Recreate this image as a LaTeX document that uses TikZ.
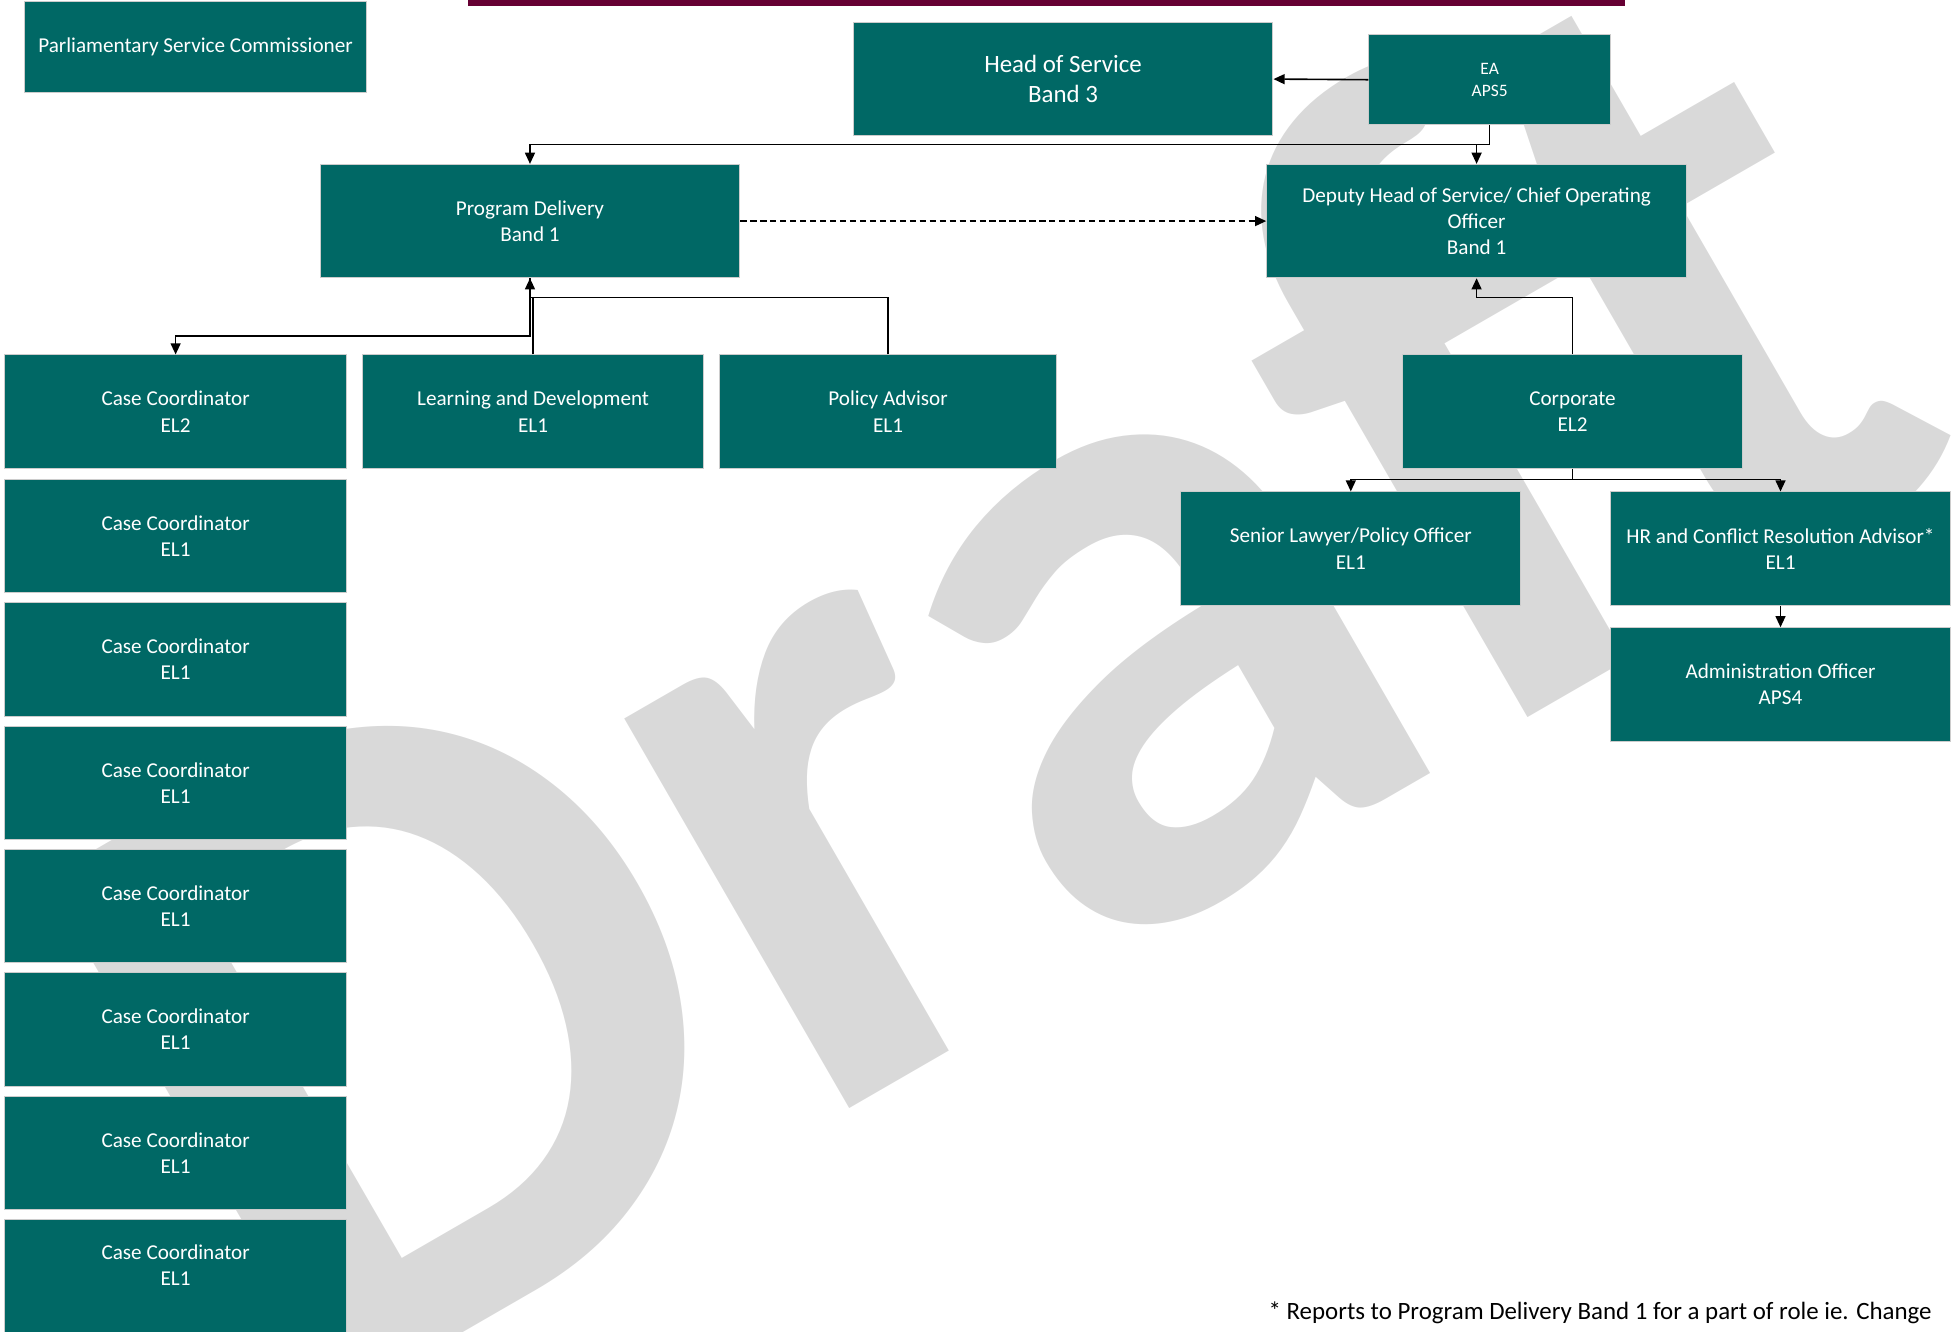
\documentclass[tikz,border=0pt]{standalone}
\usepackage{fontspec}
\setmainfont{Carlito}
\usetikzlibrary{arrows.meta, positioning, calc}
\definecolor{boxteal}{RGB}{0,104,101}
\definecolor{barmaroon}{RGB}{102,0,51}
\definecolor{wmgrey}{RGB}{217,217,217}

\begin{document}
\begin{tikzpicture}[x=1pt, y=-1pt, >={Triangle[length=9pt, width=8pt]},
    role/.style={draw=black!20, line width=0.8pt, fill=boxteal, text=white, align=center, inner sep=0pt, minimum width=274pt, minimum height=91pt, font=\fontsize{17}{21}\selectfont},
    wide/.style={role, minimum width=337pt},
    link/.style={line width=1.3pt}]
    \useasboundingbox (0,0) rectangle (1568,1069.4);
    \clip (0,0) rectangle (1568,1069.4);

    % watermark behind everything
    \node[rotate=30, anchor=base west, inner sep=0pt, text=wmgrey, font=\bfseries\fontsize{745}{745}\selectfont] at (241,1145) (draft) {Draft};
    \fill[barmaroon] (376,0) rectangle (1305,5);

    % top level
    \node[role, minimum height=73pt] at (157,37.5) (psc) {Parliamentary Service Commissioner};
    \node[wide, font=\fontsize{20}{24}\selectfont] at (853.5,63.5) (hos) {Head of Service\\Band 3};
    \node[role, minimum width=194pt, minimum height=72pt, font=\fontsize{14}{18}\selectfont] at (1196,64) (ea) {EA\\APS5};
    \node[wide] at (425.5,177.5) (progdel) {Program Delivery\\Band 1};
    \node[wide] at (1185.5,177.5) (deputy) {Deputy Head of Service/ Chief Operating\\Officer\\Band 1};

    % second level
    \node[role] at (141,330.5) (casecoord) {Case Coordinator\\EL2};
    \node[role] at (428,330.5) (learndev) {Learning and Development\\EL1};
    \node[role, minimum width=270pt] at (713,330.5) (policy) {Policy Advisor\\EL1};
    \node[role, minimum width=273pt] at (1262.5,330.5) (corporate) {Corporate\\EL2};
    \node[role, minimum width=273pt] at (1084.5,440.5) (lawyer) {Senior Lawyer/Policy Officer\\EL1};
    \node[role, minimum width=273pt] at (1429.5,440.5) (hradvisor) {HR and Conflict Resolution Advisor*\\EL1};
    \node[role, minimum width=273pt] at (1429.5,549.5) (admin) {Administration Officer\\APS4};

    % case coordinator column
    \foreach \i in {1,...,6}
        \node[role] at (141,331.5+99*\i) (cc\i) {Case Coordinator\\EL1};
    \node[role] at (141,1024.5) (cc7) {};
    \node[text=white, align=center, inner sep=0pt, font=\fontsize{17}{21}\selectfont] at (141,1015.5) (cc7text) {Case Coordinator\\EL1};

    % connectors
    \coordinate (eadrop) at (1196,116);
    \coordinate (ldbar) at (425.5,239);
    \coordinate (ccbar) at (425.5,270);
    \coordinate (corpbar) at (1185.5,239);
    \coordinate (corpsplit) at (1262.5,385);

    \draw[link, ->] (ea.west) -- (hos.east);
    \draw[link] (ea.south) -- (eadrop);
    \draw[link, ->] (eadrop) -| (progdel.north);
    \draw[link, ->] (eadrop) -| (deputy.north);
    \draw[link, dash pattern=on 5pt off 3pt, ->] (progdel.east) -- (deputy.west);

    \draw[link, ->] (learndev.north) |- (ldbar) -- (progdel.south);
    \draw[link] (policy.north) |- (ldbar);
    \draw[link, ->] (progdel.south) -- (ccbar) -| (casecoord.north);

    \draw[link, ->] (corporate.north) |- (corpbar) -- (deputy.south);
    \draw[link] (corporate.south) -- (corpsplit);
    \draw[link, ->] (corpsplit) -| (lawyer.north);
    \draw[link, ->] (corpsplit) -| (hradvisor.north);
    \draw[link, ->] (hradvisor.south) -- (admin.north);

    \node[anchor=east, inner sep=0pt, font=\fontsize{20}{24}\selectfont] at (1551,1054) (note) {* Reports to Program Delivery Band 1 for a part of role ie. Change};
\end{tikzpicture}
\end{document}
